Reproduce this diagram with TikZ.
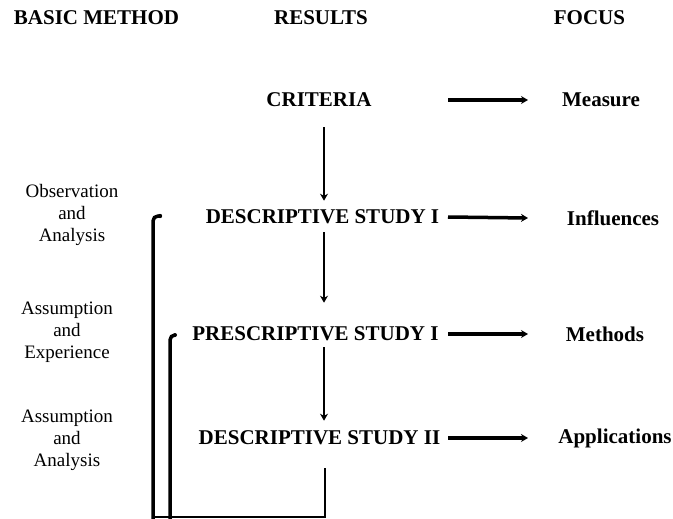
\documentclass[tikz,border=0pt]{standalone}
\usepackage{fontspec}
\setmainfont{Liberation Serif}
\usetikzlibrary{arrows.meta,calc}
\tikzset{
  hd/.style={font=\fontsize{21}{24}\selectfont\bfseries, inner sep=0pt, anchor=center},
  res/.style={font=\fontsize{21}{24}\selectfont\bfseries, inner sep=0pt, anchor=center},
  foc/.style={font=\fontsize{21}{24}\selectfont\bfseries, inner sep=0pt, anchor=center},
  meth/.style={font=\fontsize{19}{22}\selectfont, align=center, inner sep=0pt, anchor=center},
  harr/.style={line width=3.5pt, -{Stealth[length=7pt,width=8pt]}},
  varr/.style={line width=2.6pt, -{Stealth[length=7pt,width=8pt]}},
  fb/.style={line width=3.5pt, rounded corners=5pt},
  fbthin/.style={line width=2.6pt},
}
\begin{document}
\begin{tikzpicture}[x=1pt,y=-1pt]
\useasboundingbox[fill=white] (0,0) rectangle (673,519);
% headers
\node[hd] (bm) at (96.5,18) {BASIC METHOD};
\node[hd] (rs) at (321,18) {RESULTS};
\node[hd] (fo) at (589.5,18) {FOCUS};
% results
\node[res] (crit) at (319,100) {CRITERIA};
\node[res] (ds1) at (322.5,217) {DESCRIPTIVE STUDY I};
\node[res] (ps1) at (315.5,334) {PRESCRIPTIVE STUDY I};
\node[res] (ds2) at (319.5,438) {DESCRIPTIVE STUDY II};
% focus
\node[foc] (meas) at (601,100) {Measure};
\node[foc] (infl) at (613,218) {Influences};
\node[foc] (meth) at (605,334) {Methods};
\node[foc] (appl) at (615,438) {Applications};
% methods
\node[meth] (m1) at (72,215) {Observation\\and\\Analysis};
\node[meth] (m2) at (67,332) {Assumption\\and\\Experience};
\node[meth] (m3) at (67,440) {Assumption\\and\\Analysis};
% coordinates for arrow columns
\coordinate (ax) at (448,0);
\coordinate (bx) at (528,0);
\coordinate (vx) at (324,0);
% horizontal arrows
\draw[harr] (crit.east -| ax) -- (meas.west -| bx);
\draw[harr] (ds1.east -| ax) -- (infl.west -| bx);
\draw[harr] (ps1.east -| ax) -- (meth.west -| bx);
\draw[harr] (ds2.east -| ax) -- (appl.west -| bx);
% vertical arrows
\draw[varr] ($(crit.south -| vx)+(0,20)$) -- ($(ds1.north -| vx)+(0,-9)$);
\draw[varr] ($(ds1.south -| vx)+(0,8)$) -- ($(ps1.north -| vx)+(0,-24)$);
\draw[varr] ($(ps1.south -| vx)+(0,6)$) -- ($(ds2.north -| vx)+(0,-10)$);
% feedback lines
\coordinate (fbs) at ($(ds2.south -| vx)+(1,23)$);
\draw[fbthin] (fbs) -- (325,517) -- (153,517);
\draw[fb] (153,519) -- (153,216) -- (160,216);
\fill (160,216) circle (2.2pt);
\draw[fb] (170,519) -- (170,335) -- (175,335);
\fill (175,335) circle (2pt);
\end{tikzpicture}
\end{document}
